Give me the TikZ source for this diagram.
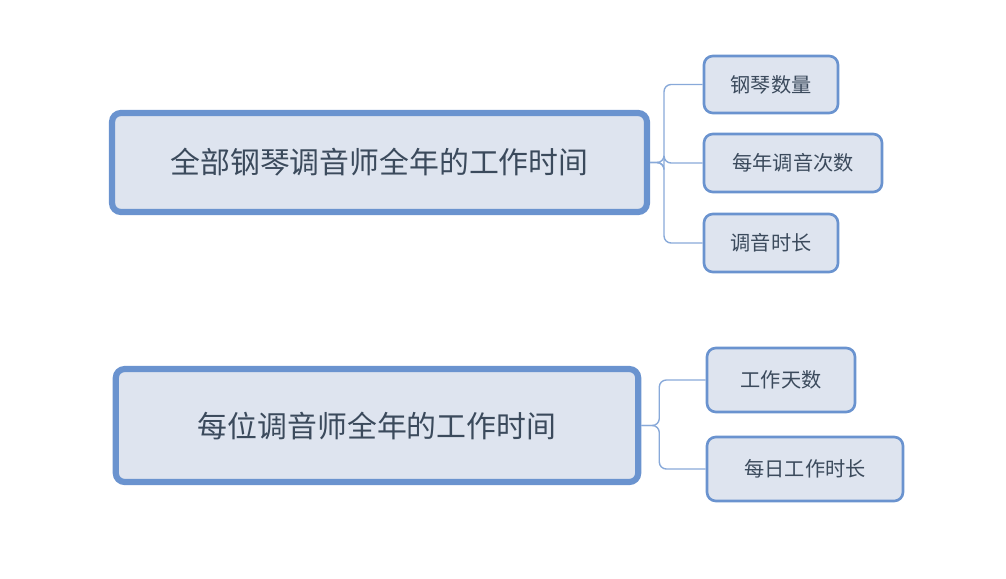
\documentclass[tikz,border=0pt]{standalone}
\usepackage{fontspec}
\setmainfont{Noto Sans CJK SC}
\usetikzlibrary{positioning}
\definecolor{boxline}{HTML}{6A93CF}
\definecolor{boxfill}{HTML}{DEE4EF}
\definecolor{txt}{HTML}{3B4A5C}

\begin{document}
\begin{tikzpicture}[x=0.02cm, y=-0.02cm,
    every node/.style = {rectangle, rounded corners=5pt, fill=boxfill, draw=boxline, text=txt, inner sep=0pt},
    main/.style = {line width=3.5pt, font=\fontsize{17}{20}\selectfont},
    leaf/.style = {line width=1.5pt, font=\fontsize{11.5}{14}\selectfont},
    link/.style = {draw=boxline!80, line width=0.8pt, rounded corners=4pt}
]
    \useasboundingbox (0,0) rectangle (1006,578);

    \node[main, minimum width=10.7cm, minimum height=1.98cm] (T) at (379.5,162.5) {全部钢琴调音师全年的工作时间};
    \node[leaf, minimum width=2.68cm, minimum height=1.14cm] (t1) at (771,84.5) {钢琴数量};
    \node[leaf, minimum width=3.56cm, minimum height=1.16cm] (t2) at (793,163) {每年调音次数};
    \node[leaf, minimum width=2.68cm, minimum height=1.16cm] (t3) at (771,243) {调音时长};

    \node[main, minimum width=10.45cm, minimum height=2.26cm] (B) at (377,425.5) {每位调音师全年的工作时间};
    \node[leaf, minimum width=2.96cm, minimum height=1.28cm] (b1) at (781,380) {工作天数};
    \node[leaf, minimum width=3.92cm, minimum height=1.28cm] (b2) at (805,469) {每日工作时长};

    \foreach \n in {t1,t2,t3}
        \draw[link] (T.east) -- ++(14,0) |- (\n.west);
    \foreach \n in {b1,b2}
        \draw[link] (B.east) -- ++(18,0) |- (\n.west);
\end{tikzpicture}
\end{document}
